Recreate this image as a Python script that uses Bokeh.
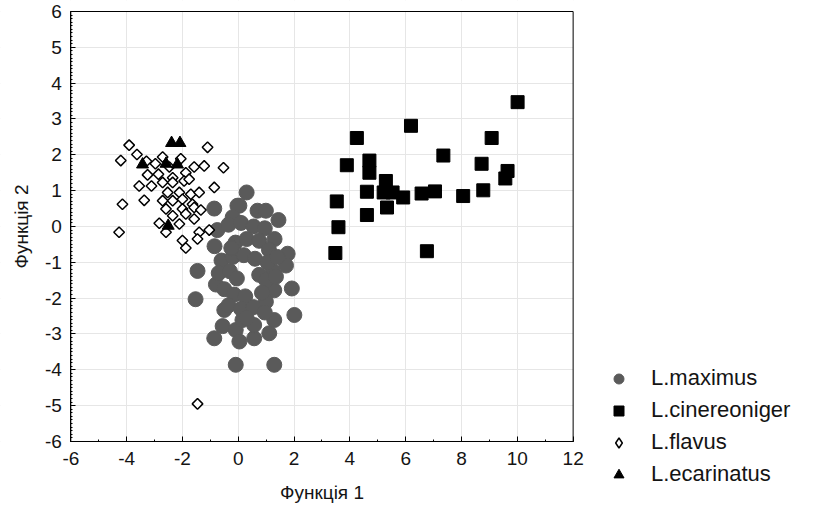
from bokeh.plotting import figure
from bokeh.models import Range1d, Legend, LegendItem, FixedTicker, BoxAnnotation
from bokeh.embed import file_html
from bokeh.resources import INLINE
from math import pi

# ---- data ----
maximus_x = [0.30, -0.86, 0.04, -0.03, 0.69, 0.99, 1.44, -0.20, 1.77, 1.71,
             -1.46, -0.80, -1.53, 1.92, 2.01, -0.50, -0.56, -0.86, -0.09, 0.04,
             0.57, 1.11, 1.29, -0.09, 1.29, 1.23, 1.29, 0.99, 0.57, 0.15,
             -0.75, -0.35, 0.10, 0.55, 0.95, 1.30, -0.85, -0.10, 0.30, 0.75,
             1.10, -0.60, -0.20, 0.20, 0.60, 1.05, 1.40, -0.70, -0.30, -0.05,
             0.75, 1.00, -0.50, -0.15, 0.25, 0.85, 1.35, -0.35, 0.10, 0.55,
             0.95, 0.30, -0.25]
maximus_y = [0.95, 0.50, 0.58, 0.58, 0.44, 0.44, 0.18, 0.26, -0.76, -1.09,
             -1.24, -1.62, -2.03, -1.73, -2.47, -2.33, -2.78, -3.12, -2.89, -3.21,
             -3.12, -2.98, -2.61, -3.86, -3.86, -1.24, -1.78, -2.10, -2.75, -2.61,
             -0.10, 0.05, 0.10, 0.00, -0.05, -0.35, -0.55, -0.45, -0.35, -0.40,
             -0.65, -0.95, -0.85, -0.80, -0.90, -1.00, -0.85, -1.30, -1.25, -1.45,
             -1.35, -1.50, -1.75, -1.90, -1.95, -1.85, -1.40, -2.20, -2.30, -2.25,
             -2.40, -2.55, -0.60]

cinereoniger_x = [10.01, 6.19, 4.25, 9.08, 7.35, 3.89, 4.70, 4.70, 8.72, 9.65,
                  9.57, 5.29, 3.53, 4.61, 5.21, 5.53, 5.33, 5.91, 6.57, 7.05,
                  8.06, 8.78, 4.61, 3.59, 3.48, 6.76]
cinereoniger_y = [3.47, 2.81, 2.47, 2.47, 1.98, 1.71, 1.84, 1.50, 1.75, 1.55,
                  1.34, 1.27, 0.70, 0.97, 0.95, 0.95, 0.53, 0.81, 0.92, 0.98,
                  0.85, 1.01, 0.32, -0.02, -0.74, -0.69]

flavus_x = [-3.91, -1.10, -4.21, -3.63, -3.29, -2.71, -2.97, -2.06, -1.58, -1.22,
            -0.53, -3.25, -2.86, -2.47, -2.35, -1.88, -3.55, -3.11, -2.71, -2.35,
            -1.94, -1.76, -0.86, -2.53, -2.11, -1.70, -1.40, -3.37, -2.71, -2.35,
            -2.00, -1.64, -4.15, -2.59, -2.00, -1.58, -1.34, -2.35, -1.88, -1.58,
            -2.83, -2.11, -4.27, -2.59, -1.40, -1.04, -2.00, -1.46, -1.88, -1.46]
flavus_y = [2.27, 2.21, 1.84, 2.01, 1.82, 1.94, 1.75, 1.89, 1.66, 1.69,
            1.64, 1.44, 1.46, 1.66, 1.36, 1.50, 1.13, 1.13, 1.23, 1.23,
            1.27, 1.32, 1.09, 0.95, 0.95, 0.90, 0.95, 0.73, 0.72, 0.72,
            0.76, 0.62, 0.62, 0.49, 0.49, 0.53, 0.46, 0.30, 0.35, 0.21,
            0.09, 0.07, -0.16, -0.16, -0.16, -0.10, -0.39, -0.35, -0.60, -4.95]

ecarinatus_x = [-2.39, -2.09, -3.43, -2.59, -2.18, -2.51]
ecarinatus_y = [2.33, 2.33, 1.73, 1.75, 1.73, 0.02]

x_ticks = [-6, -4, -2, 0, 2, 4, 6, 8, 10, 12]
x_tick_labels = ["-6", "-4", "-2", "0", "2", "4", "6", "8", "10", "12"]
x_minor = [-6, -5, -4, -3, -2, -1, 0, 1, 2, 3, 4, 5, 6, 7, 8, 9, 10, 11, 12]
y_ticks = [-6, -5, -4, -3, -2, -1, 0, 1, 2, 3, 4, 5, 6]
y_tick_labels = ["-6", "-5", "-4", "-3", "-2", "-1", "0", "1", "2", "3", "4", "5", "6"]
y_minor = [i / 10 for i in range(-60, 61)]

series_labels = ["L.maximus", "L.cinereoniger", "L.flavus", "L.ecarinatus"]
x_title = "Функція 1"
y_title = "Функція 2"

FONT = "Liberation Sans"
GRAY = "#5a5a5a"
INK = "#141414"

# The frame fills the whole canvas; the plotting box is x -6..12, y -6..6 and the
# axes are fixed on its left and bottom edges, so the legend can sit outside it.
p = figure(width=797, height=510, output_backend="svg", toolbar_location=None,
           x_range=Range1d(-8.52, 20.04), y_range=Range1d(-7.926, 6.307),
           min_border=0, x_axis_label=x_title, y_axis_label=y_title)

p.background_fill_color = "white"
p.border_fill_color = "white"
p.outline_line_color = None

p.xaxis.ticker = FixedTicker(ticks=x_ticks, minor_ticks=x_minor)
p.yaxis.ticker = FixedTicker(ticks=y_ticks, minor_ticks=y_minor)
p.xaxis.major_label_overrides = dict(zip(x_ticks, x_tick_labels))
p.yaxis.major_label_overrides = dict(zip(y_ticks, y_tick_labels))
p.xaxis.bounds = (-6, 12)
p.yaxis.bounds = (-6, 6)
p.xaxis.fixed_location = -6
p.yaxis.fixed_location = -6
p.xgrid.ticker = FixedTicker(ticks=x_ticks)
p.ygrid.ticker = FixedTicker(ticks=y_ticks)
p.xgrid.grid_line_color = "#e6e6e6"
p.ygrid.grid_line_color = "#e6e6e6"

for ax in (p.xaxis, p.yaxis):
    ax.axis_line_color = "black"
    ax.major_tick_line_color = "black"
    ax.minor_tick_line_color = "black"
    ax.major_tick_in = 5
    ax.major_tick_out = 0
    ax.minor_tick_in = 2
    ax.minor_tick_out = 0
    ax.major_label_text_font = FONT
    ax.major_label_text_font_size = "19px"
    ax.major_label_text_color = INK
    ax.axis_label_text_font = FONT
    ax.axis_label_text_font_size = "19px"
    ax.axis_label_text_font_style = "normal"
    ax.axis_label_text_color = INK

p.xaxis.major_label_standoff = 11
p.xaxis.axis_label_standoff = 13
p.yaxis.major_label_standoff = 9
p.yaxis.axis_label_standoff = 10

# white covers so the grid stays inside the plotting box
for cover in (dict(right=-6), dict(left=12), dict(top=-6), dict(bottom=6)):
    p.add_layout(BoxAnnotation(**cover, fill_color="white", fill_alpha=1.0,
                               line_alpha=0, level="underlay"))
# the plotting box outline
p.add_layout(BoxAnnotation(left=-6, right=12, bottom=-6, top=6, fill_alpha=0,
                           line_color="black", line_alpha=1.0, line_width=1,
                           level="underlay"))

r_max = p.scatter(maximus_x, maximus_y, marker="circle", size=15,
                  fill_color=GRAY, line_color=GRAY)
r_cin = p.scatter(cinereoniger_x, cinereoniger_y, marker="square", size=13,
                  fill_color="black", line_color="black")
p.scatter(flavus_x, flavus_y, marker="square", size=7.5, angle=pi / 4,
          fill_color="white", line_color="black", line_width=1.5)
r_eca = p.scatter(ecarinatus_x, ecarinatus_y, marker="triangle", size=12,
                  fill_color="black", line_color="black")
# same flavus points as a diamond glyph, used only as the legend key
r_fla_key = p.scatter(flavus_x, flavus_y, marker="diamond", size=11,
                      fill_color="white", line_color="black", line_width=1.5,
                      visible=False)

legend = Legend(items=[
    LegendItem(label=series_labels[0], renderers=[r_max]),
    LegendItem(label=series_labels[1], renderers=[r_cin]),
    LegendItem(label=series_labels[2], renderers=[r_fla_key]),
    LegendItem(label=series_labels[3], renderers=[r_eca]),
], location=(606, 23), padding=0, margin=0, spacing=6,
    glyph_width=25, glyph_height=25, label_height=25, label_standoff=20,
    border_line_color=None, background_fill_alpha=0, inactive_fill_alpha=0,
    label_text_font=FONT, label_text_font_size="22px", label_text_color=INK)
p.add_layout(legend, "center")

open("out.html", "w").write(file_html(p, INLINE))
